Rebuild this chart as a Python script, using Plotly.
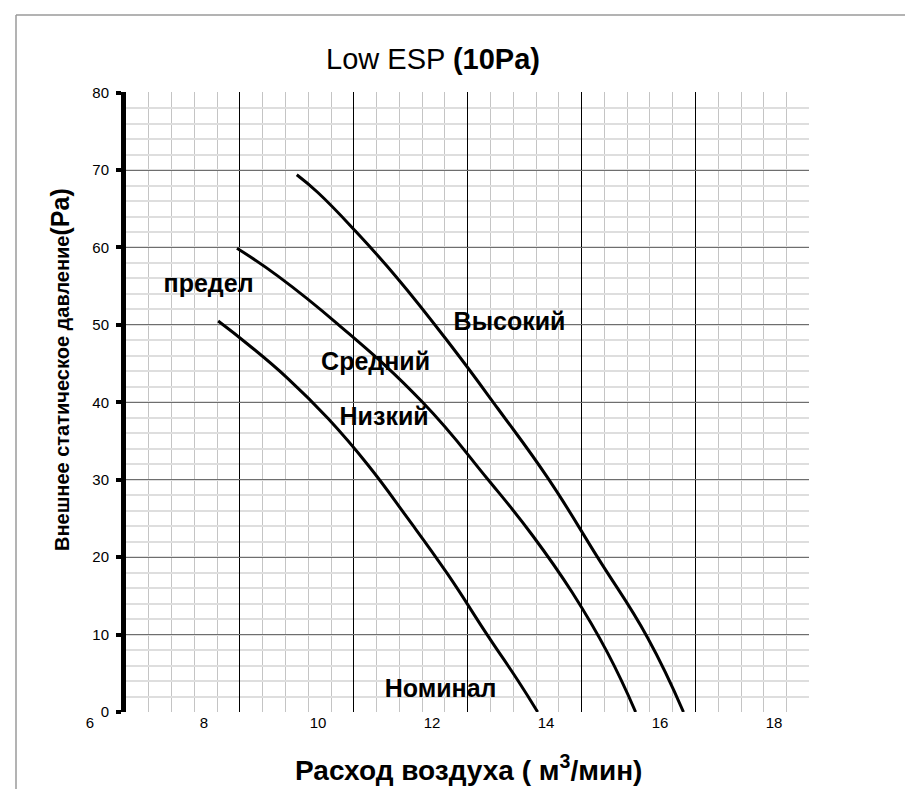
"""
Low ESP (10Pa) — кривые расход воздуха / внешнее статическое давление
"""

import plotly.graph_objects as go

# ---- данные (ось X: м3/мин, ось Y: Pa) ----
high_x = [9.63, 10.0, 10.65, 11.40, 12.33, 13.16, 14.04, 14.91, 15.79, 16.42]
high_y = [69.4, 67.1, 62.2, 56.0, 47.4, 39.2, 30.2, 20.0, 9.6, 0.0]

mid_x = [8.58, 9.30, 10.35, 11.84, 12.98, 13.77, 14.47, 15.09, 15.58]
mid_y = [59.9, 56.3, 50.1, 40.0, 30.1, 22.8, 15.4, 7.6, 0.0]

low_x = [8.25, 8.77, 9.47, 10.18, 10.88, 11.58, 12.28, 12.98, 13.51, 13.86]
low_y = [50.5, 47.5, 43.1, 37.9, 31.9, 25.0, 17.8, 9.9, 4.1, 0.0]

x_ticks = [6, 8, 10, 12, 14, 16, 18]
y_ticks = [0, 10, 20, 30, 40, 50, 60, 70, 80]
ref_y = 12  # отдельная линия на 12 Pa

# подписи кривых
label_text = ["предел", "Высокий", "Средний", "Низкий", "Номинал"]
label_x = [8.08, 13.36, 11.01, 11.16, 12.15]
label_y = [55.1, 50.2, 45.0, 37.9, 2.8]

FONT = "Arial, Liberation Sans, sans-serif"

# геометрия (пиксели)
W, H = 913, 789
ML, MR, MT, MB = 70, 112, 84, 85
PW = W - ML - MR
PH = H - MT - MB
AXIS_PX = 118      # левая ось
X6_PX = 82         # положение подписи "6"
PX_PER_UNIT = 57.0
Y_TOP = 80.08


def px_to_xpaper(px):
    return (px - ML) / PW


def px_to_ypaper(py):
    return (H - MB - py) / PH


x_start = 6 + (AXIS_PX - X6_PX) / PX_PER_UNIT
x_end = x_start + PW * (1 - px_to_xpaper(AXIS_PX)) / PX_PER_UNIT

fig = go.Figure()

for xs, ys, name in [(high_x, high_y, "Высокий"), (mid_x, mid_y, "Средний"), (low_x, low_y, "Низкий")]:
    fig.add_trace(go.Scatter(
        x=xs, y=ys, mode="lines", name=name,
        line=dict(color="black", width=3, shape="spline", smoothing=1.3),
        hoverinfo="x+y",
    ))

# подписи кривых — на оси с подписями X (те же единицы)
fig.add_trace(go.Scatter(
    x=label_x, y=label_y, mode="text", xaxis="x2", yaxis="y2",
    text=[f"<b>{t}</b>" for t in label_text],
    textposition="middle center", cliponaxis=False,
    textfont=dict(family=FONT, size=25, color="black"),
    hoverinfo="skip",
))

# линия 12 Pa
fig.add_shape(type="line", xref="paper", yref="y", x0=px_to_xpaper(AXIS_PX), x1=1,
              y0=ref_y, y1=ref_y, line=dict(color="#a8a8a8", width=1), layer="below")

# рамка вокруг диаграммы
border = dict(color="#9a9a9a", width=1.5)
fig.add_shape(type="line", xref="paper", yref="paper", x0=px_to_xpaper(8), x1=px_to_xpaper(8),
              y0=px_to_ypaper(7), y1=px_to_ypaper(800), line=border)
fig.add_shape(type="line", xref="paper", yref="paper", x0=px_to_xpaper(8), x1=px_to_xpaper(905),
              y0=px_to_ypaper(7), y1=px_to_ypaper(7), line=border)
fig.add_shape(type="line", xref="paper", yref="paper", x0=px_to_xpaper(905), x1=px_to_xpaper(905),
              y0=px_to_ypaper(7), y1=px_to_ypaper(800), line=border)

# подпись оси X
fig.add_annotation(xref="paper", yref="paper", x=px_to_xpaper(461), y=px_to_ypaper(760),
                   xanchor="center", yanchor="middle",
                   text="<b>Расход воздуха ( м<sup>3</sup>/мин)</b>", showarrow=False,
                   font=dict(family=FONT, size=28, color="black"))
# подпись оси Y
fig.add_annotation(xref="paper", yref="paper", x=px_to_xpaper(52), y=px_to_ypaper(362),
                   xanchor="center", yanchor="middle",
                   text="<b>Внешнее статическое давление<span style='font-size:25px'>(Pa)</span></b>",
                   showarrow=False, textangle=-90,
                   font=dict(family=FONT, size=20, color="black"))

# ось подписей X: 6 -> 82 px, 18 -> 766 px
lab_lo, lab_hi = 5.9, 18.1
lab_dom = [px_to_xpaper(X6_PX + (lab_lo - 6) * PX_PER_UNIT),
           px_to_xpaper(X6_PX + (lab_hi - 6) * PX_PER_UNIT)]

fig.update_layout(
    width=W, height=H,
    margin=dict(l=ML, r=MR, t=MT, b=MB),
    paper_bgcolor="white",
    plot_bgcolor="rgba(0,0,0,0)",
    showlegend=False,
    title=dict(text="Low ESP <b>(10Pa)</b>", x=425 / W, xref="container", xanchor="center",
               y=1 - 51 / H, yref="container", yanchor="middle",
               font=dict(family=FONT, size=29, color="black")),
    xaxis=dict(
        domain=[px_to_xpaper(AXIS_PX), 1],
        anchor="y",
        range=[x_start, x_end + 0.01],
        tick0=x_start, dtick=2,
        showticklabels=False, ticks="",
        showgrid=True, gridcolor="black", gridwidth=1,
        minor=dict(dtick=0.4, tick0=x_start, showgrid=True, gridcolor="#c4c4c4", gridwidth=1),
        zeroline=False, showline=False,
    ),
    xaxis2=dict(
        domain=lab_dom, anchor="y2",
        range=[lab_lo, lab_hi],
        tickvals=x_ticks, ticks="",
        showgrid=False, zeroline=False, showline=False,
        tickfont=dict(family=FONT, size=15, color="black"),
    ),
    yaxis=dict(
        anchor="x",
        range=[0, Y_TOP],
        tickvals=y_ticks,
        showgrid=True, gridcolor="#6e6e6e", gridwidth=1,
        minor=dict(dtick=2, showgrid=True, gridcolor="#dedede", gridwidth=2),
        zeroline=False,
        showline=True, linecolor="black", linewidth=5,
        ticks="outside", ticklen=5, tickwidth=4, tickcolor="black",
        ticklabelstandoff=4,
        tickfont=dict(family=FONT, size=15, color="black"),
    ),
    yaxis2=dict(
        anchor="x2", domain=[0, 1],
        range=[0, Y_TOP],
        showgrid=False, zeroline=False, showline=False,
        showticklabels=False, ticks="",
    ),
)

fig.write_html("out.html")
